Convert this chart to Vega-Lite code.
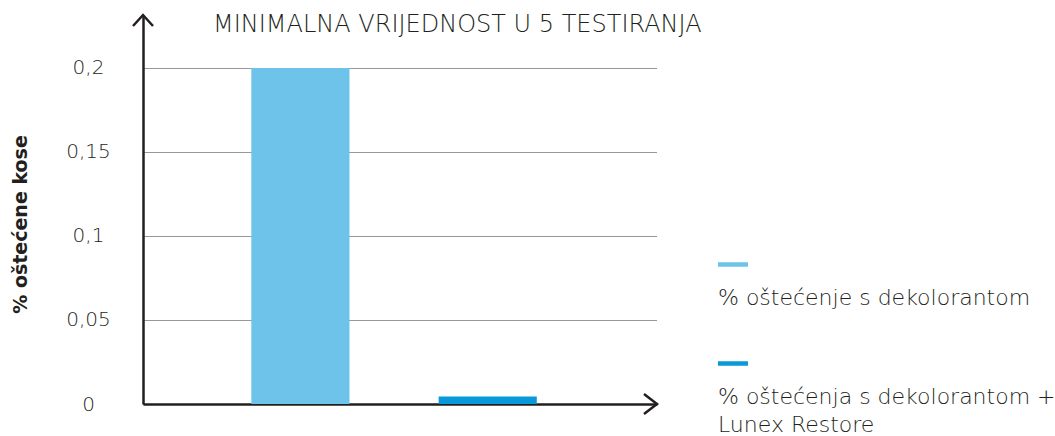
{
  "$schema": "https://vega.github.io/schema/vega-lite/v6.json",
  "width": 514,
  "height": 389,
  "autosize": {"type": "none"},
  "padding": {"left": 143, "top": 15, "right": 398, "bottom": 32},
  "background": "white",
  "config": {
    "view": {"stroke": null},
    "font": "DejaVu Sans",
    "axis": {"domainColor": "#231f20", "domainWidth": 2.5}
  },
  "title": {
    "text": "MINIMALNA VRIJEDNOST U 5 TESTIRANJA",
    "anchor": "start",
    "frame": "group",
    "dx": 70,
    "dy": 50,
    "baseline": "alphabetic",
    "font": "DejaVu Sans",
    "fontSize": 24,
    "fontWeight": 200,
    "color": "#231f20"
  },
  "layer": [
    {
      "data": {
        "values": [
          {"kategorija": "A", "serija": "% oštećenje s dekolorantom", "vrijednost": 0.2},
          {"kategorija": "B", "serija": "% oštećenja s dekolorantom + Lunex Restore", "vrijednost": 0.0045}
        ]
      },
      "mark": {"type": "bar"},
      "encoding": {
        "x": {
          "field": "kategorija",
          "type": "nominal",
          "scale": {"paddingInner": 0.476, "paddingOuter": 0.61, "align": 0.474},
          "axis": {"labels": false, "ticks": false, "title": null, "domain": true}
        },
        "y": {
          "field": "vrijednost",
          "type": "quantitative",
          "scale": {"domain": [0, 0.2315], "nice": false},
          "axis": {
            "values": [0, 0.05, 0.1, 0.15, 0.2],
            "labelExpr": "replace(format(datum.value, ''), '.', ',')",
            "ticks": false,
            "labelAlign": "center",
            "labelPadding": 55,
            "labelFontSize": 20,
            "labelFontWeight": 200,
            "labelColor": "#231f20",
            "labelFont": "DejaVu Sans",
            "grid": true,
            "gridColor": "#333333",
            "gridDash": [1, 1],
            "gridWidth": 1,
            "title": "% oštećene kose",
            "titleFont": "DejaVu Sans",
            "titleFontSize": 19,
            "titleFontWeight": "bold",
            "titleColor": "#231f20",
            "titleX": -123,
            "titleY": 209,
            "titleAngle": 270,
            "titleBaseline": "middle",
            "titleAlign": "center"
          }
        },
        "color": {
          "field": "serija",
          "type": "nominal",
          "scale": {
            "domain": ["% oštećenje s dekolorantom", "% oštećenja s dekolorantom + Lunex Restore"],
            "range": ["#6ec3ea", "#0a99d8"]
          },
          "legend": {
            "orient": "none",
            "legendX": 575,
            "legendY": 275,
            "title": null,
            "symbolType": "M-1,-2.85H1V-2.55H-1Z",
            "symbolSize": 900,
            "symbolStrokeWidth": 0,
            "labelOffset": -30,
            "labelBaseline": "alphabetic",
            "labelFont": "DejaVu Sans",
            "labelFontSize": 22,
            "labelFontWeight": 200,
            "labelColor": "#231f20",
            "labelLimit": 400,
            "rowPadding": 52,
            "labelExpr": "datum.label == '% oštećenja s dekolorantom + Lunex Restore' ? ['% oštećenja s dekolorantom +', 'Lunex Restore'] : datum.label",
            "encode": {"labels": {"update": {"lineHeight": {"value": 28}}}}
          }
        }
      }
    },
    {
      "data": {"values": [{"px": 0, "py": 0.2315}]},
      "mark": {"type": "point", "shape": "M-1,1.1L0,0L1,1.1", "size": 400, "filled": false, "stroke": "#231f20", "strokeWidth": 2.5, "opacity": 1},
      "encoding": {
        "x": {"field": "px", "type": "quantitative", "scale": {"domain": [0, 1]}, "axis": null},
        "y": {"field": "py", "type": "quantitative"}
      }
    },
    {
      "data": {"values": [{"px": 1, "py": 0}]},
      "mark": {"type": "point", "shape": "M-1.3,-1L0,0L-1.3,1", "size": 400, "filled": false, "stroke": "#231f20", "strokeWidth": 2.5, "opacity": 1},
      "encoding": {
        "x": {"field": "px", "type": "quantitative", "scale": {"domain": [0, 1]}, "axis": null},
        "y": {"field": "py", "type": "quantitative"}
      }
    }
  ],
  "resolve": {"scale": {"x": "independent"}}
}
